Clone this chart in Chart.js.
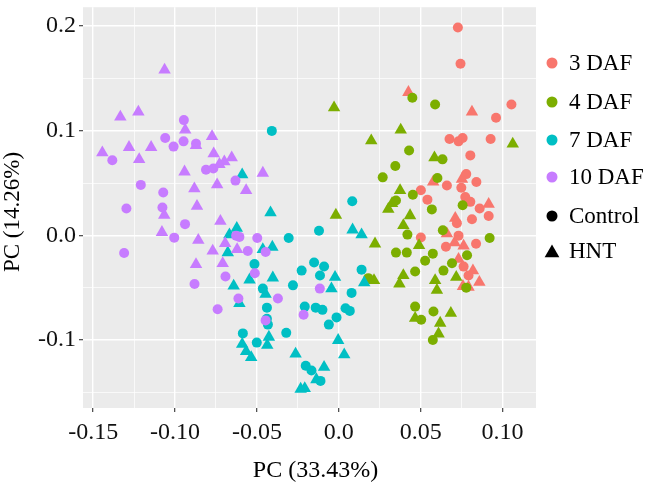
<!DOCTYPE html>
<html><head><meta charset="utf-8">
<script src="https://cdn.jsdelivr.net/npm/chart.js@4/dist/chart.umd.min.js"></script>
<style>html,body{margin:0;padding:0;background:#fff;}#wrap{width:646px;height:484px;position:relative;}</style>
</head><body><div id="wrap"><canvas id="c" width="646" height="484"></canvas></div>
<script>
const groups = ['3 DAF', '4 DAF', '7 DAF', '10 DAF'];
const treatments = ['Control', 'HNT'];
const xTitle = 'PC (33.43%)';
const yTitle = 'PC (14.26%)';
const xTickValues = [-0.15, -0.10, -0.05, 0.0, 0.05, 0.10];
const xTickLabels = ['-0.15', '-0.10', '-0.05', '0.0', '0.05', '0.10'];
const xMinorValues = [-0.125, -0.075, -0.025, 0.025, 0.075];
const yTickValues = [-0.1, 0.0, 0.1, 0.2];
const yTickLabels = ['-0.1', '0.0', '0.1', '0.2'];
const yMinorValues = [-0.15, -0.05, 0.05, 0.15];
const xLimits = [-0.1562, 0.1204];
const yLimits = [-0.1649, 0.2181];

const daf3_control = [[0.0727,0.1987],[0.0743,0.1640],[0.1054,0.1252],[0.0960,0.1124],[0.0676,0.0921],[0.0731,0.0899],[0.0756,0.0931],[0.0927,0.0921],[0.0803,0.0765],[0.0778,0.0586],[0.0840,0.0511],[0.0660,0.0478],[0.0501,0.0432],[0.0541,0.0342],[0.0748,0.0455],[0.0772,0.0368],[0.0803,0.0321],[0.0860,0.0258],[0.0915,0.0186],[0.0813,0.0155],[0.0721,0.0117],[0.0501,-0.0019],[0.0654,-0.0108],[0.0731,-0.0002],[0.0838,-0.0080],[0.0762,-0.0298],[0.0792,-0.0383]];
const daf3_hnt = [[0.0425,0.1368],[0.0813,0.1180],[0.0752,0.0539],[0.0576,0.0511],[0.0915,0.0298],[0.0711,0.0164],[0.0660,0.0017],[0.0707,-0.0070],[0.0762,-0.0101],[0.0731,-0.0227],[0.0819,-0.0336],[0.0858,-0.0446],[0.0792,-0.0493],[0.0758,-0.0486]];
const daf4_control = [[0.0449,0.1315],[0.0429,0.0812],[0.0345,0.0664],[0.0268,0.0555],[0.0452,0.0389],[0.0349,0.0333],[0.0419,0.0008],[0.0349,-0.0164],[0.0415,-0.0164],[0.0527,-0.0242],[0.0466,-0.0345],[0.0180,-0.0408],[0.0466,-0.0680],[0.0503,-0.0805],[0.0588,0.1252],[0.0633,0.0727],[0.0602,0.0549],[0.0568,0.0249],[0.0756,0.0289],[0.0635,0.0049],[0.0921,-0.0024],[0.0574,-0.0174],[0.0783,-0.0190],[0.0691,-0.0265],[0.0639,-0.0336],[0.0778,-0.0499],[0.0578,-0.0727],[0.0574,-0.0999]];
const daf4_hnt = [[-0.0029,0.1221],[0.0378,0.1009],[0.0198,0.0905],[0.0374,0.0430],[0.0325,0.0305],[0.0302,0.0251],[-0.0018,0.0195],[0.0435,0.0190],[0.0394,0.0096],[0.0221,-0.0080],[0.0490,-0.0096],[0.0394,-0.0383],[0.0370,-0.0462],[0.0215,-0.0430],[0.0466,-0.0790],[0.1062,0.0874],[0.0584,0.0743],[0.0588,-0.0430],[0.0717,-0.0399],[0.0599,-0.0524],[0.0684,-0.0743],[0.0619,-0.0837],[0.0609,-0.0940]];
const daf7_control = [[0.0082,0.0327],[-0.0306,-0.0024],[-0.0121,0.0045],[-0.0515,-0.0274],[-0.0151,-0.0258],[-0.0090,-0.0296],[-0.0227,-0.0336],[-0.0115,-0.0383],[0.0139,-0.0327],[-0.0280,-0.0477],[-0.0464,-0.0508],[0.0078,-0.0549],[-0.0439,-0.0690],[-0.0208,-0.0680],[-0.0141,-0.0690],[-0.0100,-0.0711],[0.0041,-0.0696],[0.0067,-0.0721],[-0.0439,-0.0796],[-0.0433,-0.0852],[-0.0014,-0.0783],[-0.0061,-0.0852],[-0.0321,-0.0931],[-0.0586,-0.0936],[-0.0501,-0.1024],[-0.0202,-0.1246],[-0.0167,-0.1290],[-0.0112,-0.1390],[-0.0409,0.0999]];
const daf7_hnt = [[-0.0417,0.0218],[-0.0623,0.0070],[-0.0668,0.0008],[-0.0678,-0.0164],[-0.0464,-0.0133],[-0.0406,-0.0111],[-0.0403,-0.0405],[-0.0545,-0.0424],[-0.0642,-0.0483],[-0.0023,-0.0399],[-0.0045,-0.0508],[0.0155,-0.0452],[-0.0447,-0.0561],[-0.0607,-0.0649],[-0.0427,-0.0971],[-0.0437,-0.1049],[-0.0590,-0.1039],[-0.0566,-0.1109],[-0.0535,-0.1165],[-0.0004,-0.1002],[0.0033,-0.1140],[-0.0264,-0.1133],[-0.0090,-0.1259],[-0.0137,-0.1377],[-0.0233,-0.1468],[-0.0208,-0.1462],[-0.0590,0.0580],[0.0084,0.0054],[0.0139,0.0008]];
const daf10_control = [[-0.0946,0.1102],[-0.1060,0.0931],[-0.1009,0.0849],[-0.0948,0.0899],[-0.0872,0.0877],[-0.1383,0.0718],[-0.0811,0.0627],[-0.0766,0.0640],[-0.0631,0.0524],[-0.1209,0.0483],[-0.1072,0.0411],[-0.1297,0.0258],[-0.1077,0.0267],[-0.0939,0.0108],[-0.1005,-0.0021],[-0.1311,-0.0167],[-0.0881,-0.0464],[-0.0627,-0.0002],[-0.0607,-0.0014],[-0.0498,-0.0024],[-0.0556,-0.0148],[-0.0447,-0.0158],[-0.0692,-0.0392],[-0.0513,-0.0361],[-0.0613,-0.0602],[-0.0740,-0.0705],[-0.0372,-0.0602],[-0.0116,-0.0508],[-0.0215,-0.0758],[-0.0447,-0.0812]];
const daf10_hnt = [[-0.1064,0.1581],[-0.1334,0.1133],[-0.1224,0.1180],[-0.0938,0.1009],[-0.0774,0.0946],[-0.0872,0.0861],[-0.1444,0.0790],[-0.1281,0.0842],[-0.1146,0.0842],[-0.1219,0.0727],[-0.0764,0.0781],[-0.0699,0.0705],[-0.0654,0.0743],[-0.0729,0.0680],[-0.0942,0.0608],[-0.0566,0.0430],[-0.0882,0.0446],[-0.0743,0.0486],[-0.0866,0.0280],[-0.1066,0.0195],[-0.0723,0.0136],[-0.0464,0.0596],[-0.1080,0.0030],[-0.0858,-0.0045],[-0.0770,-0.0148],[-0.0694,-0.0077],[-0.0621,-0.0133],[-0.0872,-0.0277],[-0.0709,-0.0267]];

const colors = ['#F8766D', '#7CAE00', '#00BFC4', '#C77CFF'];
const FONT = '"Liberation Serif", "Times New Roman", serif';

const seriesByGroup = [
  [daf3_control, daf3_hnt],
  [daf4_control, daf4_hnt],
  [daf7_control, daf7_hnt],
  [daf10_control, daf10_hnt]
];

const datasets = [];
// index 0 is drawn last (on top) in Chart.js, so go from last group to first
for (let g = groups.length - 1; g >= 0; g--) {
  for (let t = 0; t < 2; t++) {
    datasets.push({
      label: groups[g] + ' ' + treatments[t],
      data: seriesByGroup[g][t].map(p => ({x: p[0], y: p[1]})),
      pointStyle: t === 0 ? 'circle' : 'triangle',
      pointRadius: t === 0 ? 5 : 7.2,
      pointBorderWidth: 0,
      pointBackgroundColor: colors[g],
      pointBorderColor: colors[g],
      showLine: false
    });
  }
}

const isMajor = (vals, v) => vals.some(m => Math.abs(m - v) < 1e-9);

const bgPlugin = {
  id: 'panelBg',
  beforeDraw(chart) {
    const {ctx, chartArea: a} = chart;
    ctx.save();
    ctx.fillStyle = '#ffffff';
    ctx.fillRect(0, 0, chart.width, chart.height);
    ctx.fillStyle = '#EBEBEB';
    ctx.fillRect(a.left, a.top, a.right - a.left, a.bottom - a.top);
    ctx.restore();
  }
};

const annPlugin = {
  id: 'annotations',
  afterDraw(chart) {
    const ctx = chart.ctx;
    const a = chart.chartArea;
    ctx.save();
    ctx.fillStyle = '#000';
    // axis titles
    ctx.font = '24px ' + FONT;
    ctx.textAlign = 'center';
    ctx.textBaseline = 'alphabetic';
    ctx.fillText(xTitle, (a.left + a.right) / 2 + 6, 477);
    ctx.save();
    ctx.translate(19, 212);
    ctx.rotate(-Math.PI / 2);
    ctx.font = '23px ' + FONT;
    ctx.fillText(yTitle, 0, 0);
    ctx.restore();
    // legend
    const lx = 552, tx = 569;
    const ys = [63, 102, 140, 177];
    ctx.font = '23px ' + FONT;
    ctx.textAlign = 'left';
    ctx.textBaseline = 'middle';
    groups.forEach((g, i) => {
      ctx.fillStyle = colors[i];
      ctx.beginPath();
      ctx.arc(lx, ys[i], 5.5, 0, Math.PI * 2);
      ctx.fill();
      ctx.fillStyle = '#000';
      ctx.fillText(g, tx, ys[i] + 1);
    });
    // shape legend
    ctx.fillStyle = '#000';
    ctx.beginPath();
    ctx.arc(lx, 216, 5.5, 0, Math.PI * 2);
    ctx.fill();
    ctx.fillText(treatments[0], tx, 217);
    const r = 8.5, ty = 253;
    ctx.beginPath();
    ctx.moveTo(lx, ty - r);
    ctx.lineTo(lx + r * Math.sin(2 * Math.PI / 3), ty - r * Math.cos(2 * Math.PI / 3));
    ctx.lineTo(lx - r * Math.sin(2 * Math.PI / 3), ty - r * Math.cos(2 * Math.PI / 3));
    ctx.closePath();
    ctx.fill();
    ctx.fillText(treatments[1], tx, 252);
    ctx.restore();
  }
};

new Chart(document.getElementById('c'), {
  type: 'scatter',
  data: {datasets},
  options: {
    responsive: false,
    animation: false,
    devicePixelRatio: 1,
    events: [],
    layout: {padding: {left: 0, right: 110, top: 0, bottom: 0}},
    plugins: {legend: {display: false}, tooltip: {enabled: false}, title: {display: false}},
    scales: {
      x: {
        type: 'linear',
        min: xLimits[0],
        max: xLimits[1],
        afterBuildTicks(s) {
          s.ticks = xTickValues.concat(xMinorValues).sort((p, q) => p - q).map(v => ({value: v}));
        },
        afterFit(s) { s.height = 76; s.paddingLeft = 0; s.paddingRight = 0; },
        border: {display: false},
        grid: {
          color: '#ffffff',
          lineWidth: c => isMajor(xTickValues, c.tick.value) ? 1.4 : 0.7,
          drawTicks: true,
          tickLength: 4,
          tickWidth: 1.1,
          tickColor: c => isMajor(xTickValues, c.tick.value) ? '#333333' : 'rgba(0,0,0,0)'
        },
        ticks: {
          autoSkip: false,
          maxRotation: 0,
          minRotation: 0,
          padding: 6.5,
          color: '#111',
          font: {family: FONT, size: 24},
          callback: (v) => {
            const i = xTickValues.findIndex(m => Math.abs(m - v) < 1e-9);
            return i >= 0 ? xTickLabels[i] : '';
          }
        }
      },
      y: {
        type: 'linear',
        min: yLimits[0],
        max: yLimits[1],
        afterBuildTicks(s) {
          s.ticks = yTickValues.concat(yMinorValues).sort((p, q) => p - q).map(v => ({value: v}));
        },
        afterFit(s) { s.width = 83; s.paddingTop = 0; s.paddingBottom = 0; },
        border: {display: false},
        grid: {
          color: '#ffffff',
          lineWidth: c => isMajor(yTickValues, c.tick.value) ? 1.4 : 0.7,
          drawTicks: true,
          tickLength: 4,
          tickWidth: 1.1,
          tickColor: c => isMajor(yTickValues, c.tick.value) ? '#333333' : 'rgba(0,0,0,0)'
        },
        ticks: {
          autoSkip: false,
          padding: 3,
          color: '#111',
          font: {family: FONT, size: 24},
          callback: (v) => {
            const i = yTickValues.findIndex(m => Math.abs(m - v) < 1e-9);
            return i >= 0 ? yTickLabels[i] : '';
          }
        }
      }
    }
  },
  plugins: [bgPlugin, annPlugin]
});
</script>
</body></html>
